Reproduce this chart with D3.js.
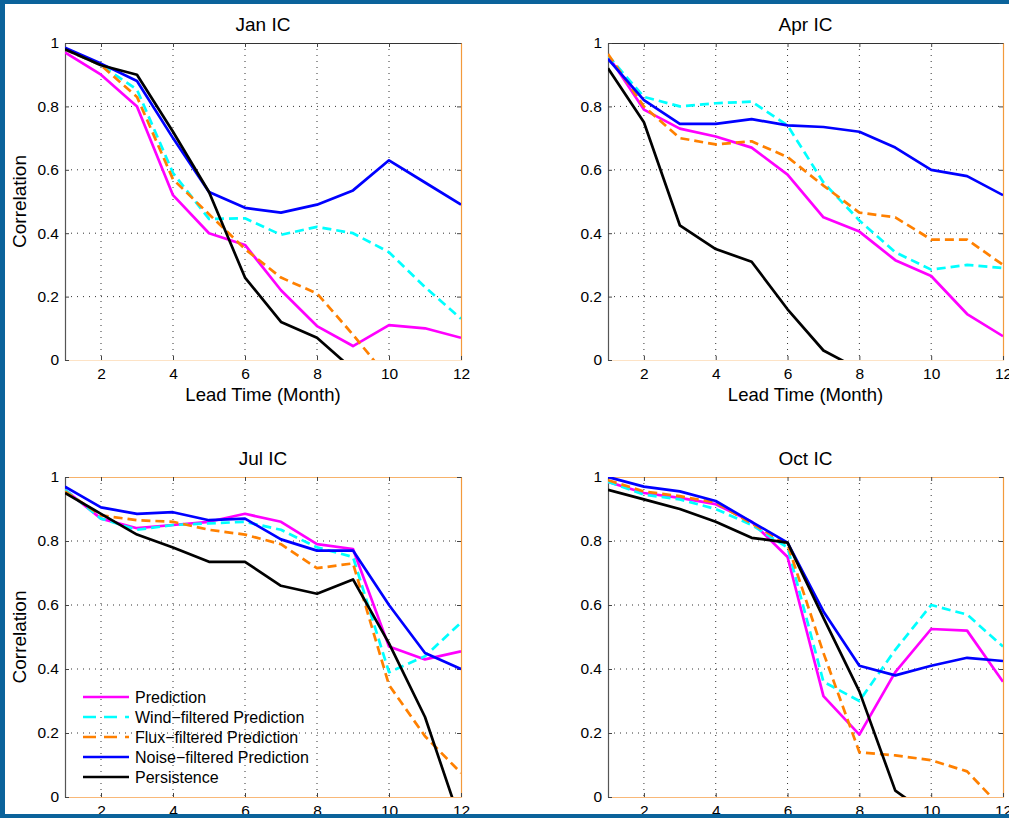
<!DOCTYPE html>
<html>
<head>
<meta charset="utf-8">
<script src="https://cdn.jsdelivr.net/npm/d3@7"></script>
<style>
  body { margin: 0; background: #0b5f93; }
  svg { display: block; }
  text { font-family: "Liberation Sans", Arial, sans-serif; fill: #000; }
</style>
</head>
<body>
<div id="vis"></div>
<script>
// lead time (months) and tick values
var leadMonths = [1, 2, 3, 4, 5, 6, 7, 8, 9, 10, 11, 12];
var xTicks = [2, 4, 6, 8, 10, 12];
var yTicks = [0, 0.2, 0.4, 0.6, 0.8, 1];

var seriesNames = ["Prediction", "Wind\u2212filtered Prediction", "Flux\u2212filtered Prediction",
                   "Noise\u2212filtered Prediction", "Persistence"];

// Jan IC
var janPred    = [0.97, 0.90, 0.80, 0.52, 0.40, 0.363, 0.22, 0.107, 0.044, 0.11, 0.10, 0.07];
var janWind    = [0.98, 0.93, 0.853, 0.59, 0.445, 0.447, 0.395, 0.42, 0.40, 0.34, 0.23, 0.13];
var janFlux    = [0.98, 0.93, 0.83, 0.57, 0.46, 0.35, 0.26, 0.21, 0.08, -0.06, -0.15, -0.2];
var janNoise   = [0.985, 0.935, 0.88, 0.70, 0.53, 0.48, 0.465, 0.49, 0.535, 0.63, 0.56, 0.49];
var janPersist = [0.98, 0.93, 0.90, 0.72, 0.53, 0.26, 0.12, 0.07, -0.03, -0.1, -0.15, -0.2];

// Apr IC
var aprPred    = [0.96, 0.79, 0.73, 0.705, 0.67, 0.585, 0.45, 0.405, 0.315, 0.265, 0.145, 0.075];
var aprWind    = [0.96, 0.83, 0.80, 0.81, 0.815, 0.74, 0.56, 0.44, 0.34, 0.285, 0.30, 0.29];
var aprFlux    = [0.965, 0.80, 0.70, 0.68, 0.69, 0.64, 0.55, 0.465, 0.45, 0.38, 0.38, 0.30];
var aprNoise   = [0.95, 0.82, 0.745, 0.745, 0.76, 0.74, 0.735, 0.72, 0.67, 0.60, 0.58, 0.52];
var aprPersist = [0.92, 0.75, 0.425, 0.35, 0.31, 0.16, 0.03, -0.03, -0.1, -0.15, -0.2, -0.2];

// Jul IC
var julPred    = [0.96, 0.87, 0.84, 0.85, 0.86, 0.885, 0.86, 0.79, 0.775, 0.47, 0.43, 0.455];
var julWind    = [0.96, 0.87, 0.835, 0.85, 0.855, 0.86, 0.835, 0.78, 0.75, 0.39, 0.44, 0.545];
var julFlux    = [0.955, 0.88, 0.865, 0.86, 0.835, 0.82, 0.79, 0.715, 0.73, 0.35, 0.19, 0.075];
var julNoise   = [0.97, 0.905, 0.885, 0.89, 0.865, 0.87, 0.805, 0.77, 0.77, 0.60, 0.45, 0.40];
var julPersist = [0.95, 0.885, 0.82, 0.78, 0.735, 0.735, 0.66, 0.635, 0.68, 0.48, 0.25, -0.083];

// Oct IC
var octPred    = [0.985, 0.95, 0.935, 0.915, 0.86, 0.75, 0.315, 0.195, 0.39, 0.525, 0.52, 0.36];
var octWind    = [0.985, 0.945, 0.93, 0.90, 0.85, 0.78, 0.36, 0.30, 0.46, 0.60, 0.57, 0.47];
var octFlux    = [0.99, 0.955, 0.94, 0.92, 0.855, 0.79, 0.45, 0.14, 0.13, 0.115, 0.08, -0.038];
var octNoise   = [1.0, 0.97, 0.955, 0.925, 0.86, 0.795, 0.58, 0.41, 0.38, 0.41, 0.435, 0.425];
var octPersist = [0.96, 0.93, 0.90, 0.86, 0.81, 0.795, 0.56, 0.33, 0.02, -0.06, -0.1, -0.15];

/* ****** Sizes and styles ****** */
var width = 1009;
var height = 818;
var colors = ["#ff00ff", "#00ffff", "#ff8000", "#0000ff", "#000000"];
var dashes = [null, "9,5", "9,5", null, null];

var panels = [
  { title: "Jan IC", left: 65,  top: 43,  w: 396, h: 317, ylab: true,  xlab: true,  legend: false,
    series: [janPred, janWind, janFlux, janNoise, janPersist] },
  { title: "Apr IC", left: 608, top: 43,  w: 395, h: 317, ylab: false, xlab: true,  legend: false,
    series: [aprPred, aprWind, aprFlux, aprNoise, aprPersist] },
  { title: "Jul IC", left: 65,  top: 477, w: 396, h: 320, ylab: true,  xlab: false, legend: true,
    series: [julPred, julWind, julFlux, julNoise, julPersist] },
  { title: "Oct IC", left: 608, top: 477, w: 395, h: 320, ylab: false, xlab: false, legend: false,
    series: [octPred, octWind, octFlux, octNoise, octPersist] }
];

var svg = d3.select("#vis").append("svg")
    .attr("width", width)
    .attr("height", height);

svg.append("rect").attr("width", width).attr("height", height).attr("fill", "#ffffff");

var fmt = function(d) { return d3.format("~g")(d); };

panels.forEach(function(p, pi) {
    var x = d3.scaleLinear().domain([1, 12]).range([0, p.w]);
    var y = d3.scaleLinear().domain([0, 1]).range([p.h, 0]);

    var g = svg.append("g").attr("transform", "translate(" + p.left + "," + p.top + ")");

    // dotted grid
    g.append("g").selectAll("line.vg").data(xTicks.filter(function(d) { return d < 12; }))
        .join("line")
        .attr("x1", function(d) { return x(d); }).attr("x2", function(d) { return x(d); })
        .attr("y1", 0).attr("y2", p.h)
        .attr("stroke", "#333").attr("stroke-width", 1).attr("stroke-dasharray", "1,5");
    g.append("g").selectAll("line.hg").data(yTicks.filter(function(d) { return d > 0 && d < 1; }))
        .join("line")
        .attr("y1", function(d) { return y(d); }).attr("y2", function(d) { return y(d); })
        .attr("x1", 0).attr("x2", p.w)
        .attr("stroke", "#333").attr("stroke-width", 1).attr("stroke-dasharray", "1,5");

    // box axes
    var top = g.append("g").call(d3.axisTop(x).tickValues(xTicks).tickSize(-4).tickSizeOuter(0).tickFormat(""));
    var right = g.append("g").attr("transform", "translate(" + p.w + ",0)")
        .call(d3.axisRight(y).tickValues(yTicks).tickSize(-4).tickSizeOuter(0).tickFormat(""));
    var bottom = g.append("g").attr("transform", "translate(0," + p.h + ")")
        .call(d3.axisBottom(x).tickValues(xTicks).tickSize(-4).tickSizeOuter(0).tickPadding(10).tickFormat(fmt));
    var left = g.append("g")
        .call(d3.axisLeft(y).tickValues(yTicks).tickSize(-4).tickSizeOuter(0).tickPadding(6).tickFormat(fmt));

    [top, right, bottom, left].forEach(function(a) {
        a.selectAll("text").attr("font-size", "15.5px").attr("font-family", "Liberation Sans, Arial, sans-serif");
        a.selectAll(".tick line").attr("stroke", "#444");
    });
    left.select(".domain").attr("stroke", "#555").attr("stroke-width", 1.2);
    top.select(".domain").attr("stroke", pi < 2 ? "#333" : "#f7b26a").attr("stroke-width", 1.2);
    right.select(".domain").attr("stroke", "#f39a3c").attr("stroke-width", 1.2);
    bottom.select(".domain").attr("stroke", pi < 2 ? "#fde3c6" : "#f9b878").attr("stroke-width", 1.2);
    bottom.selectAll("text").attr("dy", "0.6em");

    // titles and labels
    g.append("text").attr("x", p.w / 2).attr("y", -12)
        .attr("text-anchor", "middle").attr("font-size", "19px").text(p.title);
    if (p.xlab) {
        g.append("text").attr("x", p.w / 2).attr("y", p.h + 41)
            .attr("text-anchor", "middle").attr("font-size", "18.5px").text("Lead Time (Month)");
    }
    if (p.ylab) {
        g.append("text")
            .attr("transform", "translate(" + (20 - p.left + 6) + "," + (p.h / 2) + ") rotate(-90)")
            .attr("text-anchor", "middle").attr("font-size", "19px").text("Correlation");
    }

    // series lines, clipped to plot box
    g.append("clipPath").attr("id", "clip" + pi)
        .append("rect").attr("width", p.w).attr("height", p.h);
    var line = d3.line()
        .x(function(d, i) { return x(leadMonths[i]); })
        .y(function(d) { return y(d); });
    g.append("g").attr("clip-path", "url(#clip" + pi + ")")
        .selectAll("path").data(p.series).join("path")
        .attr("d", line)
        .attr("fill", "none")
        .attr("stroke", function(d, i) { return colors[i]; })
        .attr("stroke-width", 2.7)
        .attr("stroke-linejoin", "round")
        .attr("stroke-dasharray", function(d, i) { return dashes[i]; });

    if (p.legend) {
        var lg = g.append("g").attr("transform", "translate(18,220)");
        var rows = lg.selectAll("g").data(seriesNames).join("g")
            .attr("transform", function(d, i) { return "translate(0," + (i * 20) + ")"; });
        rows.append("line")
            .attr("x1", 0).attr("x2", 46).attr("y1", 0).attr("y2", 0)
            .attr("stroke", function(d, i) { return colors[i]; })
            .attr("stroke-width", 2.7)
            .attr("stroke-dasharray", function(d, i) { return dashes[i] ? "13,8" : null; });
        rows.append("text").attr("x", 52).attr("y", 0).attr("dy", "0.35em")
            .attr("font-size", "16px").text(function(d) { return d; });
    }
});

/* ****** Slide frame on top ****** */
svg.append("path")
    .attr("fill-rule", "evenodd")
    .attr("fill", "#0b639b")
    .attr("d", "M0,0H" + width + "V" + height + "H0Z M5,4H" + width + "V814H5Z");
</script>
</body>
</html>
